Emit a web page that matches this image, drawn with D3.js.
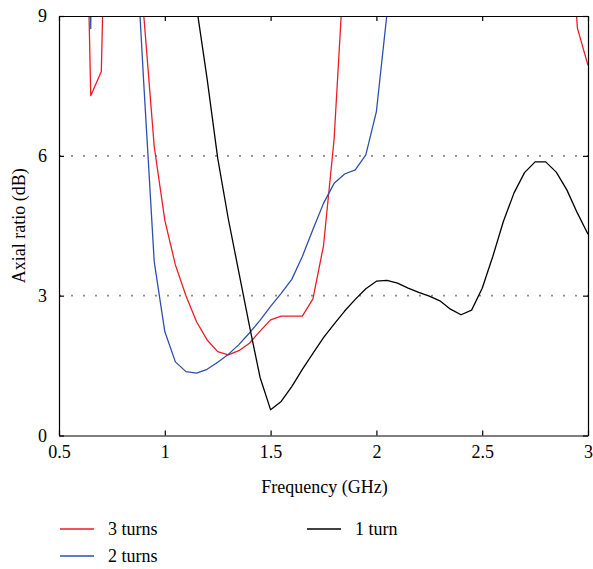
<!DOCTYPE html>
<html>
<head>
<meta charset="utf-8">
<script src="https://cdn.jsdelivr.net/npm/d3@7/dist/d3.min.js"></script>
<style>
  html, body { margin: 0; padding: 0; background: #fff; }
  svg { display: block; }
  svg text { font-family: "Liberation Serif", "Times New Roman", Times, "DejaVu Serif", "Noto Serif", serif !important; }
</style>
</head>
<body>
<svg id="chart" width="593" height="569"></svg>
<script>
// Frequency (GHz)
const freq = [0.50,0.55,0.60,0.65,0.70,0.75,0.80,0.85,0.90,0.95,
              1.00,1.05,1.10,1.15,1.20,1.25,1.30,1.35,1.40,1.45,
              1.50,1.55,1.60,1.65,1.70,1.75,1.80,1.85,1.90,1.95,
              2.00,2.05,2.10,2.15,2.20,2.25,2.30,2.35,2.40,2.45,
              2.50,2.55,2.60,2.65,2.70,2.75,2.80,2.85,2.90,2.95,3.00];

// Axial ratio (dB) — values above 9 are off-scale (clipped by the frame)
const turns3 = [20,20,18,7.29,7.81,17.7,20,14,9.05,6.2,
                4.62,3.66,3.0,2.44,2.05,1.80,1.73,1.82,1.98,2.24,
                2.48,2.56,2.56,2.56,2.93,4.07,6.35,10.3,15,18,
                20,20,20,20,20,20,20,20,20,20,
                20,20,20,20,20,20,20,20,12,8.74,7.94];
const turns2 = [20,30,40,8.73,40,30,16,11.7,7.6,3.73,
                2.23,1.58,1.37,1.34,1.42,1.57,1.74,1.95,2.2,2.47,
                2.77,3.05,3.35,3.84,4.42,4.98,5.41,5.61,5.70,6.02,
                6.95,9.05,14,20,20,20,20,20,20,20,
                20,20,20,20,20,20,20,20,20,20,20];
const turn1 = [20,20,20,20,20,20,20,20,20,20,
               20,20,12,9.2,7.65,5.95,4.65,3.5,2.35,1.25,
               0.55,0.73,1.05,1.42,1.76,2.1,2.39,2.67,2.92,3.15,
               3.31,3.33,3.27,3.16,3.07,2.99,2.89,2.71,2.59,2.69,
               3.16,3.84,4.59,5.20,5.64,5.87,5.87,5.65,5.27,4.77,4.32];

const xTicks = [0.5, 1, 1.5, 2, 2.5, 3];
const xTickLabels = ["0.5", "1", "1.5", "2", "2.5", "3"];
const yTicks = [0, 3, 6, 9];
const yTickLabels = ["0", "3", "6", "9"];
const gridValues = [3, 6];

const seriesNames = ["3 turns", "2 turns", "1 turn"];
const seriesColors = ["#ec1c24", "#2d4fae", "#000000"];
const seriesData = [turns3, turns2, turn1];

const xLabel = "Frequency (GHz)";
const yLabel = "Axial ratio (dB)";

const FONT = '"Liberation Serif", "Times New Roman", Times, "DejaVu Serif", "Noto Serif", serif';

const svg = d3.select("#chart");
const pL = 59, pR = 588, pT = 16, pB = 435.5;

const x = d3.scaleLinear().domain([0.5, 3]).range([pL, pR]);
const y = d3.scaleLinear().domain([0, 9]).range([pB, pT]);

svg.append("defs").append("clipPath").attr("id", "plotclip")
  .append("rect").attr("x", pL).attr("y", pT)
  .attr("width", pR - pL).attr("height", pB - pT);

// dotted grid lines
svg.append("g").selectAll("line").data(gridValues).join("line")
  .attr("x1", pL).attr("x2", pR)
  .attr("y1", d => y(d)).attr("y2", d => y(d))
  .attr("stroke", "#8a8a8a").attr("stroke-width", 1.6)
  .attr("stroke-dasharray", "2 10");

// series lines
const line = d3.line().x((d, i) => x(freq[i])).y(d => y(d));
const plot = svg.append("g").attr("clip-path", "url(#plotclip)");
seriesData.forEach((s, k) => {
  plot.append("path").datum(s)
    .attr("d", line)
    .attr("fill", "none")
    .attr("stroke", seriesColors[k])
    .attr("stroke-width", 1.3)
    .attr("stroke-linejoin", "round");
});

// axes (ticks inside)
const fontSize = 18;
const xAxisB = d3.axisBottom(x).tickValues(xTicks).tickSizeInner(-5).tickSizeOuter(0)
  .tickPadding(10).tickFormat((d, i) => xTickLabels[i]);
const xAxisT = d3.axisTop(x).tickValues(xTicks).tickSizeInner(-5).tickSizeOuter(0).tickFormat("");
const yAxisL = d3.axisLeft(y).tickValues(yTicks).tickSizeInner(-5).tickSizeOuter(0)
  .tickPadding(12).tickFormat((d, i) => yTickLabels[i]);
const yAxisR = d3.axisRight(y).tickValues(yTicks).tickSizeInner(-5).tickSizeOuter(0).tickFormat("");

function style(g) {
  g.attr("font-family", FONT).attr("font-size", fontSize);
  g.select(".domain").attr("stroke", "#000").attr("stroke-width", 1.2);
  g.selectAll(".tick line").attr("stroke", "#000").attr("stroke-width", 1.2);
  g.selectAll(".tick text").attr("fill", "#000")
    .attr("font-family", FONT).attr("font-size", fontSize);
}
svg.append("g").attr("transform", `translate(0,${pB})`).call(xAxisB).call(style);
svg.append("g").attr("transform", `translate(0,${pT})`).call(xAxisT).call(style);
svg.append("g").attr("transform", `translate(${pL},0)`).call(yAxisL).call(style);
svg.append("g").attr("transform", `translate(${pR},0)`).call(yAxisR).call(style);

// axis titles
svg.append("text").attr("x", (pL + pR) / 2 + 1).attr("y", 493)
  .attr("text-anchor", "middle").attr("font-family", FONT).attr("font-size", fontSize).text(xLabel);
svg.append("text")
  .attr("transform", `translate(25,${(pT + pB) / 2}) rotate(-90)`)
  .attr("text-anchor", "middle").attr("font-family", FONT).attr("font-size", fontSize).text(yLabel);

// legend
const legendPos = [[60, 529], [60, 556], [307, 529]];
seriesNames.forEach((name, k) => {
  const [lx, ly] = legendPos[k];
  svg.append("line").attr("x1", lx).attr("x2", lx + 34)
    .attr("y1", ly).attr("y2", ly)
    .attr("stroke", seriesColors[k]).attr("stroke-width", 1.3);
  svg.append("text").attr("x", lx + 48).attr("y", ly + 6)
    .attr("font-family", FONT).attr("font-size", fontSize).text(name);
});
</script>
</body>
</html>
